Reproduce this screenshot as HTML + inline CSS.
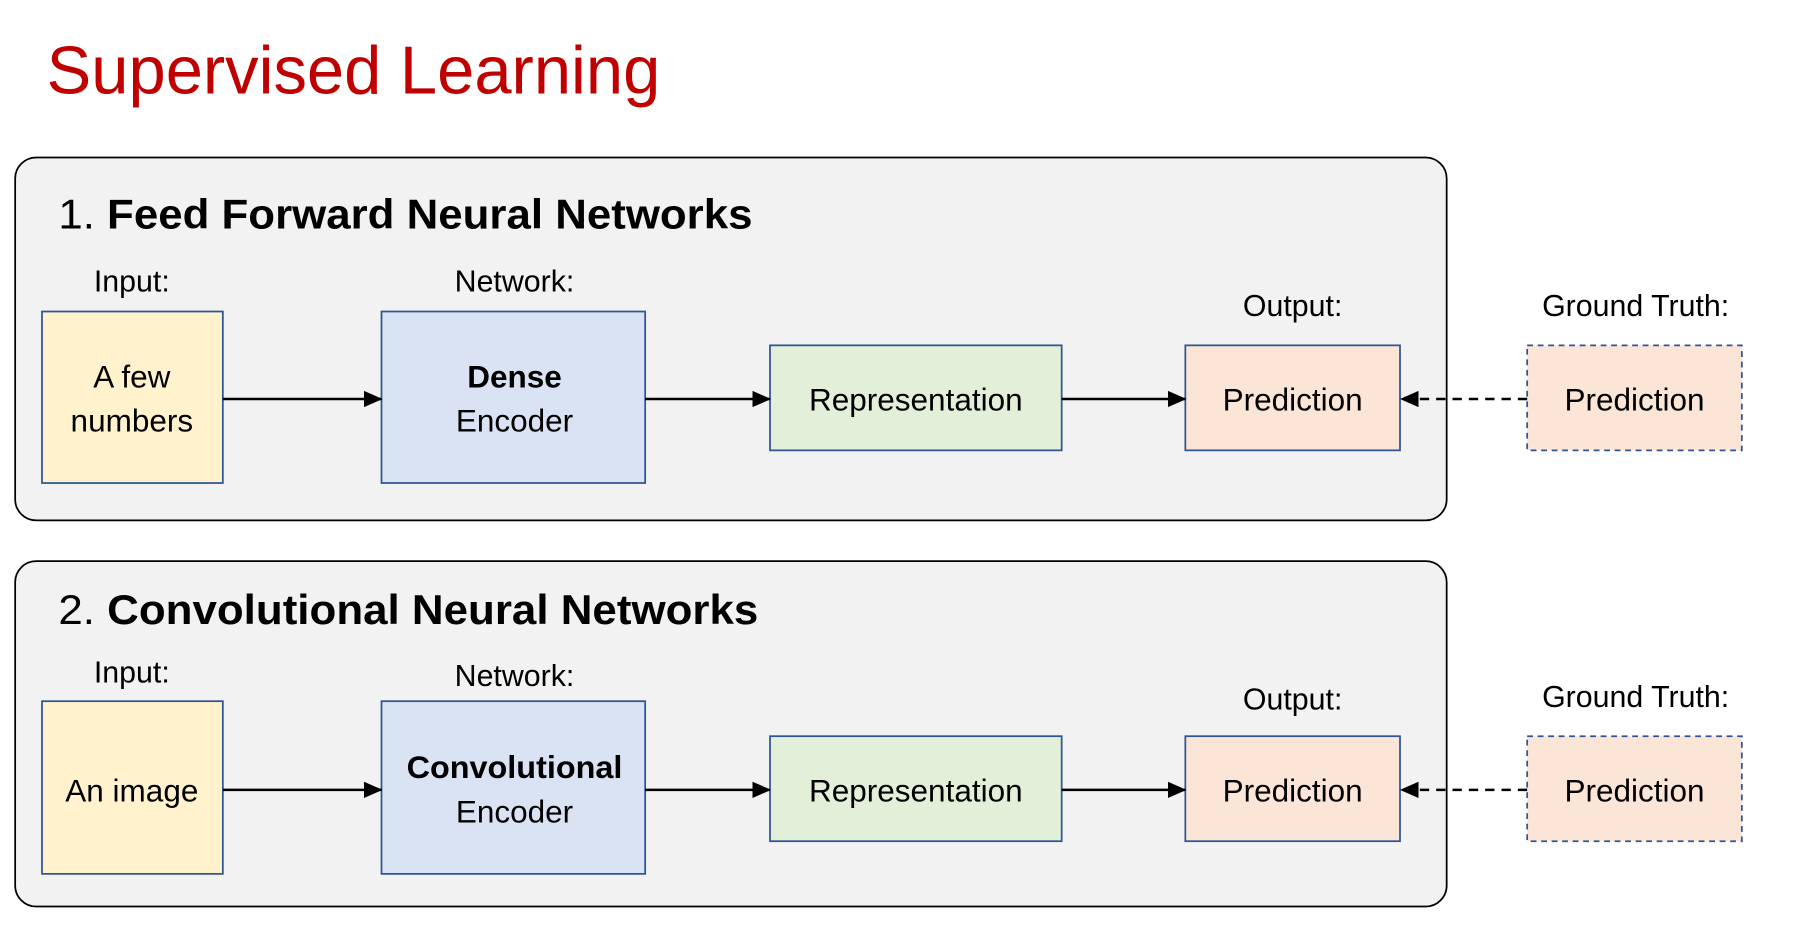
<!DOCTYPE html>
<html><head><meta charset="utf-8"><style>html,body{margin:0;padding:0;background:#fff}svg{display:block}text{font-family:"Liberation Sans",sans-serif}</style></head><body>
<svg width="1820" height="942" viewBox="0 0 1560 807.4" preserveAspectRatio="none" xmlns="http://www.w3.org/2000/svg">
<defs><marker id="a" markerWidth="16" markerHeight="16" refX="15" refY="8" orient="auto" markerUnits="userSpaceOnUse"><path d="M0,1 L16,8 L0,15 z" fill="#000"/></marker></defs>
<text x="40" y="80" font-size="58" fill="#c00000" textLength="526" lengthAdjust="spacingAndGlyphs">Supervised Learning</text>
<g>
<rect x="13" y="135" width="1227" height="311" rx="18" fill="#f2f2f2" stroke="#000" stroke-width="1.5"/>
<text x="50" y="196" font-size="36" textLength="595" lengthAdjust="spacingAndGlyphs">1. <tspan font-weight="bold">Feed Forward Neural Networks</tspan></text>
<g font-size="26" text-anchor="middle">
<text x="113" y="250">Input:</text><text x="441" y="250">Network:</text><text x="1108" y="271">Output:</text><text x="1402" y="271">Ground Truth:</text>
</g>
<rect x="36" y="267" width="155" height="147" fill="#fff2cc" stroke="#2f5597" stroke-width="1.5"/>
<rect x="327" y="267" width="226" height="147" fill="#dae3f3" stroke="#2f5597" stroke-width="1.5"/>
<rect x="660" y="296" width="250" height="90" fill="#e2f0d9" stroke="#2f5597" stroke-width="1.5"/>
<rect x="1016" y="296" width="184" height="90" fill="#fbe5d6" stroke="#2f5597" stroke-width="1.5"/>
<rect x="1309" y="296" width="184" height="90" fill="#fbe5d6" stroke="#2f5597" stroke-width="1.5" stroke-dasharray="5,4"/>
<g font-size="27" text-anchor="middle">
<text x="113" y="332">A few</text><text x="113" y="370">numbers</text>
<text x="441" y="332" font-weight="bold">Dense</text><text x="441" y="370">Encoder</text>
<text x="785" y="352">Representation</text><text x="1108" y="352">Prediction</text><text x="1401" y="352">Prediction</text>
</g>
<g stroke="#000" stroke-width="2.2">
<line x1="191" y1="342" x2="327" y2="342" marker-end="url(#a)"/>
<line x1="553" y1="342" x2="660" y2="342" marker-end="url(#a)"/>
<line x1="910" y1="342" x2="1016" y2="342" marker-end="url(#a)"/>
<line x1="1309" y1="342" x2="1201" y2="342" stroke-dasharray="8,6" marker-end="url(#a)"/>
</g>
</g>
<g>
<rect x="13" y="481" width="1227" height="296" rx="18" fill="#f2f2f2" stroke="#000" stroke-width="1.5"/>
<text x="50" y="535" font-size="36" textLength="600" lengthAdjust="spacingAndGlyphs">2. <tspan font-weight="bold">Convolutional Neural Networks</tspan></text>
<g font-size="26" text-anchor="middle">
<text x="113" y="585">Input:</text><text x="441" y="588">Network:</text><text x="1108" y="608">Output:</text><text x="1402" y="606">Ground Truth:</text>
</g>
<rect x="36" y="601" width="155" height="148" fill="#fff2cc" stroke="#2f5597" stroke-width="1.5"/>
<rect x="327" y="601" width="226" height="148" fill="#dae3f3" stroke="#2f5597" stroke-width="1.5"/>
<rect x="660" y="631" width="250" height="90" fill="#e2f0d9" stroke="#2f5597" stroke-width="1.5"/>
<rect x="1016" y="631" width="184" height="90" fill="#fbe5d6" stroke="#2f5597" stroke-width="1.5"/>
<rect x="1309" y="631" width="184" height="90" fill="#fbe5d6" stroke="#2f5597" stroke-width="1.5" stroke-dasharray="5,4"/>
<g font-size="27" text-anchor="middle">
<text x="113" y="687">An image</text>
<text x="441" y="667" font-weight="bold" textLength="185" lengthAdjust="spacingAndGlyphs">Convolutional</text><text x="441" y="705">Encoder</text>
<text x="785" y="687">Representation</text><text x="1108" y="687">Prediction</text><text x="1401" y="687">Prediction</text>
</g>
<g stroke="#000" stroke-width="2.2">
<line x1="191" y1="677" x2="327" y2="677" marker-end="url(#a)"/>
<line x1="553" y1="677" x2="660" y2="677" marker-end="url(#a)"/>
<line x1="910" y1="677" x2="1016" y2="677" marker-end="url(#a)"/>
<line x1="1309" y1="677" x2="1201" y2="677" stroke-dasharray="8,6" marker-end="url(#a)"/>
</g>
</g>
</svg>
</body></html>
